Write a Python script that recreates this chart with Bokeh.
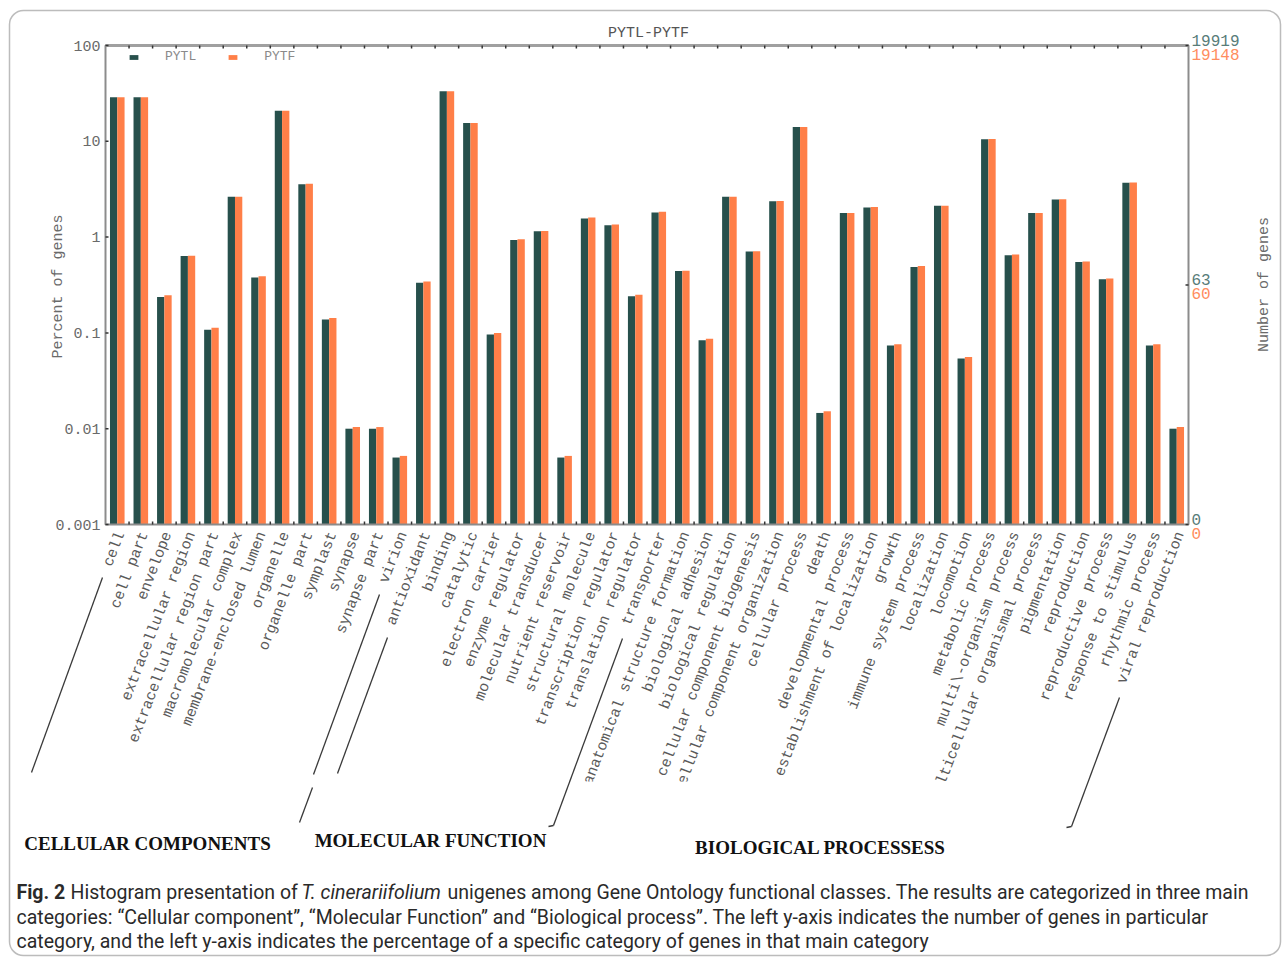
import numpy as np
from bokeh.plotting import figure
from bokeh.models import (ColumnDataSource, Range1d, Label, Arrow, BoxAnnotation,
                          Legend, LegendItem)
from bokeh.core.properties import value
from bokeh.embed import file_html
from bokeh.resources import INLINE

# ---- GO categories, grouped by main ontology ----
cellular = ["cell", "cell part", "envelope", "extracellular region",
            "extracellular region part", "macromolecular complex",
            "membrane-enclosed lumen", "organelle", "organelle part", "symplast",
            "synapse", "synapse part", "virion"]
molecular = ["antioxidant", "binding", "catalytic", "electron carrier",
             "enzyme regulator", "molecular transducer", "nutrient reservoir",
             "structural molecule", "transcription regulator",
             "translation regulator", "transporter"]
biological = ["anatomical structure formation", "biological adhesion",
              "biological regulation", "cellular component biogenesis",
              "cellular component organization", "cellular process", "death",
              "developmental process", "establishment of localization", "growth",
              "immune system process", "localization", "locomotion",
              "metabolic process", "multi\\-organism process",
              "multicellular organismal process", "pigmentation", "reproduction",
              "reproductive process", "response to stimulus", "rhythmic process",
              "viral reproduction"]
categories = cellular + molecular + biological
group_titles = ["CELLULAR COMPONENTS", "MOLECULAR FUNCTION", "BIOLOGICAL PROCESSESS"]

# percent of genes per category
pytl_pct = [28.8, 28.8, 0.237, 0.635, 0.108, 2.64, 0.378, 20.9, 3.57, 0.138,
            0.0100, 0.0100, 0.0050,
            0.334, 33.3, 15.5, 0.096, 0.935, 1.15, 0.0050, 1.56, 1.33, 0.241, 1.81,
            0.443, 0.084, 2.64, 0.706, 2.37, 14.1, 0.0146, 1.78, 2.04, 0.074, 0.488,
            2.12, 0.054, 10.5, 0.646, 1.78, 2.47, 0.55, 0.363, 3.69, 0.074, 0.0100]
pytf_pct = [28.8, 28.8, 0.247, 0.64, 0.113, 2.64, 0.39, 20.9, 3.6, 0.143,
            0.0104, 0.0104, 0.0052,
            0.345, 33.3, 15.5, 0.100, 0.95, 1.16, 0.0052, 1.6, 1.35, 0.25, 1.84,
            0.445, 0.087, 2.64, 0.71, 2.38, 14.1, 0.0152, 1.79, 2.06, 0.076, 0.50,
            2.13, 0.056, 10.6, 0.66, 1.79, 2.48, 0.555, 0.37, 3.72, 0.076, 0.0104]

series_names = ["PYTL", "PYTF"]
total_genes = [19919, 19148]   # right axis, top
mid_genes = [63, 60]           # right axis, middle tick
y_ticks = [0.001, 0.01, 0.1, 1, 10, 100]
y_tick_labels = ["0.001", "0.01", "0.1", "1", "10", "100"]

DARK = "#27504c"
ORANGE = "#ff7f48"
GREY = "#6a6a6a"
AXIS = "#8c8c8c"
MONO = "Liberation Mono"

# ---- page geometry (pixels) ----
W, H = 1287, 958
FL, FR, FT, FB = 105, 1188, 45, 524        # edges of the bar panel
n = len(categories)
U = (FR - FL) / n                          # pixels per category
D = (FB - FT) / 5.0                        # pixels per decade

# the drawing area spans the whole page; ranges put the bar panel at FL..FR, FT..FB
x_range = Range1d(-FL / U, (W - FL) / U)
y_range = Range1d(10 ** (-3 - (H - FB) / D), 10 ** (2 + FT / D))

p = figure(width=W, height=H, x_range=x_range, y_range=y_range, y_axis_type="log",
           x_axis_location=None, y_axis_location=None, min_border=0,
           output_backend="svg", toolbar_location=None)
p.outline_line_color = None
p.grid.visible = False
p.background_fill_color = "white"
p.border_fill_color = "white"


def Y(py):
    """page row (top-down) -> screen units measured from the bottom"""
    return H - py


src = ColumnDataSource(dict(x=[i + 0.5 for i in range(n)], cat=categories,
                            pytl=pytl_pct, pytf=pytf_pct))

# ---- bars ----
bw = 0.31
r1 = p.vbar(x=[i + 0.5 - bw / 2 for i in range(n)], top=pytl_pct, bottom=0.001, width=bw,
            fill_color=DARK, line_color=None)
r2 = p.vbar(x=[i + 0.5 + bw / 2 for i in range(n)], top=pytf_pct, bottom=0.001, width=bw,
            fill_color=ORANGE, line_color=None)

# ---- panel frame and ticks ----
p.quad(left=0, right=n, bottom=0.001, top=100, fill_color=None, line_color=AXIS,
       line_width=2)
p.segment(x0=0, y0=100, x1=n, y1=100, line_color="#a0a0a0", line_width=3)
f = 10 ** (3 / D)
ks = list(range(1, n))
p.segment(x0=ks, y0=[0.001] * len(ks), x1=ks, y1=[0.001 * f] * len(ks),
          line_color="#333333", line_width=1.5)
p.segment(x0=ks, y0=[100] * len(ks), x1=ks, y1=[100 / f] * len(ks),
          line_color="#333333", line_width=1.5)
p.segment(x0=[0] * len(y_ticks), y0=y_ticks, x1=[3 / U] * len(y_ticks), y1=y_ticks,
          line_color="#333333", line_width=1.5)

mid_pct = mid_genes[0] / total_genes[0] * 100
right_ticks = [100, mid_pct, 0.001]
p.segment(x0=[n] * 3, y0=right_ticks, x1=[n - 3 / U] * 3, y1=right_ticks,
          line_color="#333333", line_width=1.5)

# left tick labels
p.text(x=[0] * len(y_ticks), y=y_ticks, text=y_tick_labels, x_offset=-5,
       text_align="right", text_baseline="middle", text_font=value(MONO),
       text_font_size="15px", text_color=GREY)

# right tick labels: gene counts for each library
p.text(x=[n] * 3, y=right_ticks, text=[str(total_genes[0]), str(mid_genes[0]), "0"],
       x_offset=3, y_offset=-5, text_align="left", text_baseline="middle",
       text_font=value(MONO), text_font_size="16px", text_color="#587c79")
p.text(x=[n] * 3, y=right_ticks, text=[str(total_genes[1]), str(mid_genes[1]), "0"],
       x_offset=3, y_offset=9, text_align="left", text_baseline="middle",
       text_font=value(MONO), text_font_size="16px", text_color="#ff8d5e")

# rotated category labels
p.text(x="x", y=0.001, text="cat", source=src, angle=1.199, x_offset=4, y_offset=8,
       text_align="right", text_baseline="middle", text_font=value(MONO),
       text_font_size="15px", text_color="#5a5a5a")

# axis titles and chart title
p.add_layout(Label(x=58, y=Y(286), x_units="screen", y_units="screen",
                   text="Percent of genes", angle=np.pi / 2, text_align="center",
                   text_baseline="middle", text_font=MONO, text_font_size="15px",
                   text_color=GREY))
p.add_layout(Label(x=1264, y=Y(284), x_units="screen", y_units="screen",
                   text="Number of genes", angle=np.pi / 2, text_align="center",
                   text_baseline="middle", text_font=MONO, text_font_size="15px",
                   text_color=GREY))
p.add_layout(Label(x=648, y=Y(33), x_units="screen", y_units="screen",
                   text="PYTL-PYTF", text_align="center", text_baseline="middle",
                   text_font=MONO, text_font_size="15px", text_color="#555555"))

legend = Legend(items=[LegendItem(label=series_names[0], renderers=[r1]),
                       LegendItem(label=series_names[1], renderers=[r2])],
                orientation="horizontal", location=(128, Y(64)), padding=0, margin=0,
                glyph_width=11, glyph_height=6, label_height=12, label_standoff=26,
                spacing=31, label_text_font=MONO, label_text_font_size="13px",
                label_text_color="#8a8a8a", border_line_color=None,
                background_fill_alpha=0)
p.add_layout(legend)

# long category labels end at the edge of the figure image
p.add_layout(BoxAnnotation(left=520, right=1010, top=Y(781), bottom=Y(823),
                           left_units="screen", right_units="screen",
                           top_units="screen", bottom_units="screen",
                           fill_color="white", fill_alpha=1, line_color=None))

# brackets grouping the categories
bracket_lines = [((102, 577), (31, 772)), ((379, 594), (313, 774)),
                 ((312, 787), (299, 822)), ((387, 637), (337, 773)),
                 ((622, 638), (553, 825)), ((553, 825), (548, 826)),
                 ((1119, 697), (1071, 826)), ((1071, 826), (1066, 827))]
for (x0, y0), (x1, y1) in bracket_lines:
    p.add_layout(Arrow(end=None, x_start=x0, y_start=Y(y0), x_end=x1, y_end=Y(y1),
                       start_units="screen", end_units="screen",
                       line_color="#3a3a3a", line_width=1.3))

# group titles
for t, gx, gy in zip(group_titles, [147, 430, 820], [843, 840, 847]):
    p.add_layout(Label(x=gx, y=Y(gy), x_units="screen", y_units="screen", text=t,
                       text_align="center", text_baseline="middle",
                       text_font="Liberation Serif", text_font_style="bold",
                       text_font_size="19px", text_color="#111111"))

# caption
CAP = "Roboto"
cap_parts = [
    (16, 892, "Fig. 2", "bold"),
    (70, 892, "Histogram presentation of", "normal"),
    (301, 892, "T. cinerariifolium", "italic"),
    (447, 892, "unigenes among Gene Ontology functional classes. The results are categorized in three main", "normal"),
    (16, 917, "categories: \u201cCellular component\u201d, \u201cMolecular Function\u201d and \u201cBiological process\u201d. The left y-axis indicates the number of genes in particular", "normal"),
    (16, 941, "category, and the left y-axis indicates the percentage of a specific category of genes in that main category", "normal"),
]
for x, y, t, st in cap_parts:
    p.add_layout(Label(x=x, y=Y(y), x_units="screen", y_units="screen", text=t,
                       text_font=CAP, text_font_style=st, text_font_size="19.5px",
                       text_color="#2a2a2a", text_baseline="alphabetic",
                       text_align="left"))

# rounded page border
p.add_layout(BoxAnnotation(left=9, right=1280, top=Y(10), bottom=Y(955),
                           left_units="screen", right_units="screen",
                           top_units="screen", bottom_units="screen",
                           fill_alpha=0, line_color="#222222", line_width=1.5,
                           border_radius=14))

open("out.html", "w").write(file_html(p, INLINE))
